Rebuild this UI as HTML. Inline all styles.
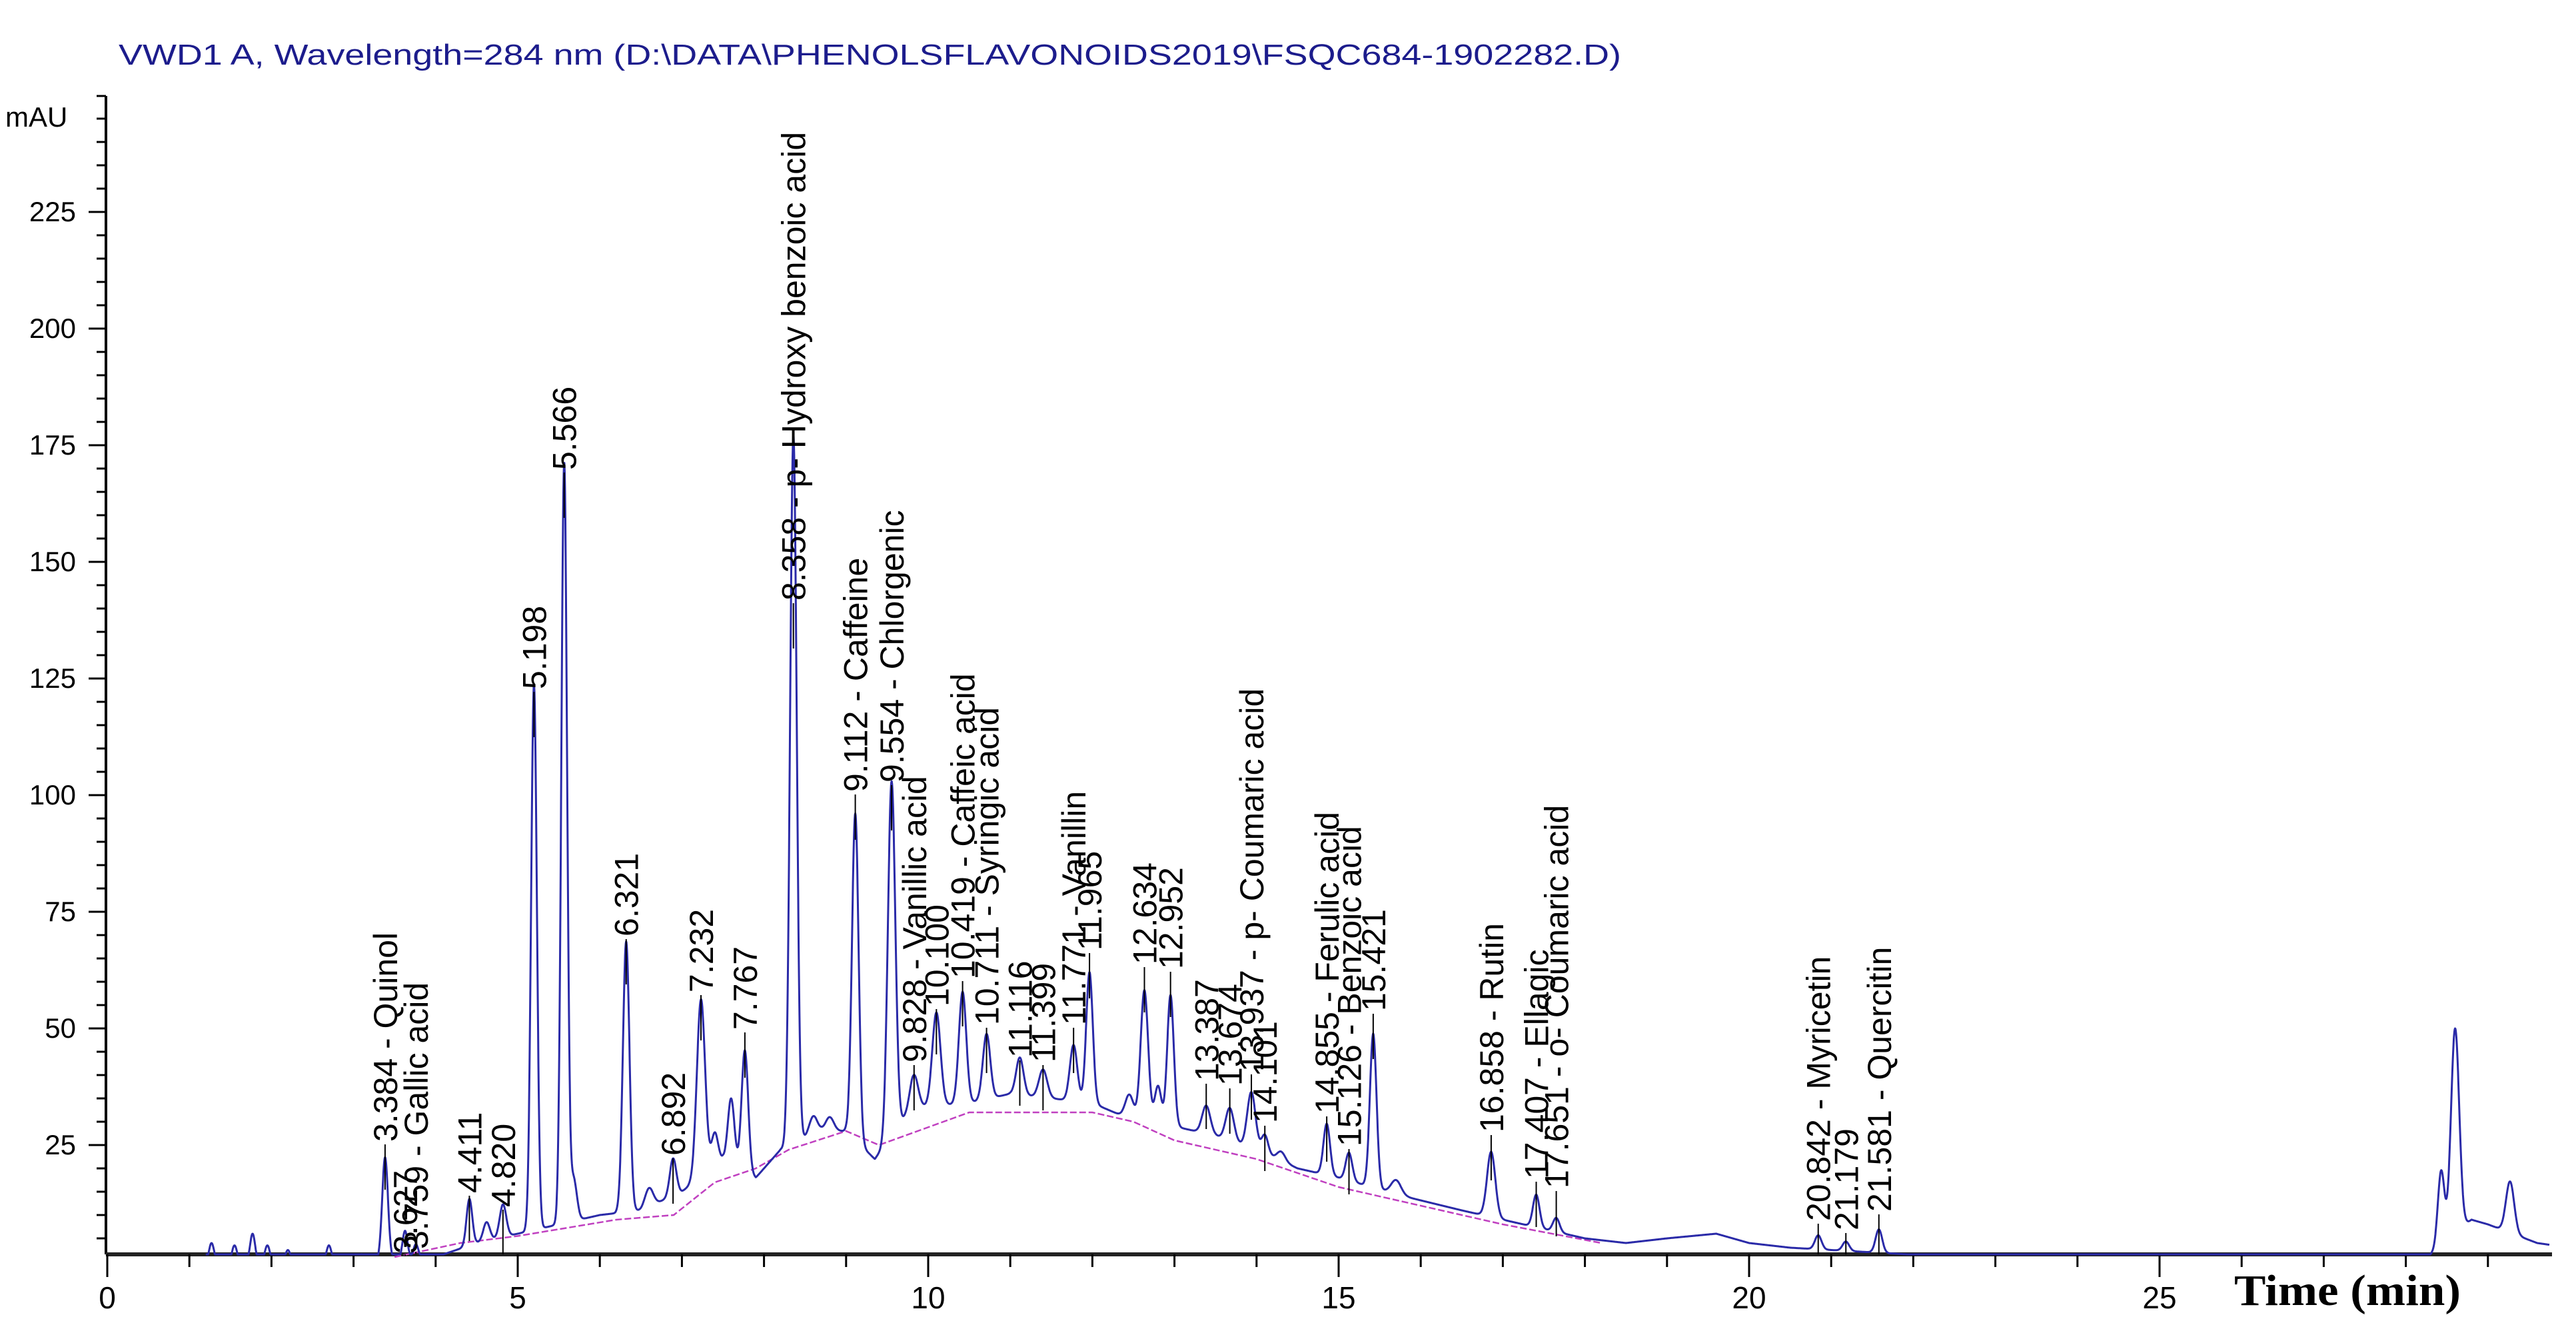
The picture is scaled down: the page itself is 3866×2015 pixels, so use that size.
<!DOCTYPE html>
<html><head><meta charset="utf-8"><style>
html,body{margin:0;padding:0;background:#fff;}
svg{display:block;}
</style></head><body>
<svg id="chart" width="3866" height="2015" viewBox="0 0 3866 2015" xmlns="http://www.w3.org/2000/svg">
<rect x="0" y="0" width="3866" height="2015" fill="#fff"/>
<text x="178" y="97" font-family="Liberation Sans, sans-serif" font-size="44" fill="#1c1c8c" textLength="2255" lengthAdjust="spacingAndGlyphs">VWD1 A, Wavelength=284 nm (D:\DATA\PHENOLSFLAVONOIDS2019\FSQC684-1902282.D)</text>
<text x="8" y="190" font-family="Liberation Sans, sans-serif" font-size="42" fill="#000">mAU</text>
<text x="3353" y="1958" font-family="Liberation Serif, serif" font-weight="bold" font-size="66" fill="#000" textLength="340" lengthAdjust="spacingAndGlyphs">Time (min)</text>
<g id="axes"></g>
<g id="plot"></g>
<g id="labels"></g>
</svg>
<script>
const peakTimes=[1.27,1.55,1.77,1.95,2.2,2.7,3.1,3.384,3.627,3.759,4.411,4.62,4.820,5.198,5.566,5.68,6.321,6.6,6.892,7.232,7.4,7.6,7.767,8.358,8.6,8.8,9.112,9.554,9.828,10.100,10.419,10.711,11.116,11.399,11.771,11.965,12.45,12.634,12.80,12.952,13.387,13.674,13.937,14.101,14.3,14.855,15.126,15.421,15.7,16.858,17.407,17.651,20.842,21.179,21.581,26.65,28.43,28.6,29.27];
const peakHeights=[4,3.5,6,3.5,2.5,3.5,1.5,22,6,3,10,4,7,117,163,9,58,4,8,38,7,14,26,152,4,3,70,76,7,20,24,14,8,6,12,28,5,28,8,28,6,7,12,4,2,11,6,33,3,14,7,3,3,2,5,1,16,44,11];
const peakWidths=[0.03,0.03,0.03,0.03,0.03,0.03,0.03,0.035,0.03,0.03,0.035,0.04,0.04,0.035,0.035,0.04,0.04,0.05,0.04,0.05,0.04,0.04,0.04,0.04,0.05,0.05,0.04,0.045,0.05,0.05,0.045,0.045,0.045,0.05,0.045,0.04,0.05,0.045,0.04,0.04,0.05,0.05,0.05,0.04,0.05,0.04,0.04,0.04,0.06,0.05,0.04,0.04,0.04,0.04,0.04,0.04,0.04,0.05,0.05];
const bgTimes=[1.2,3.0,4.0,4.5,5.0,5.5,6.0,6.5,7.0,7.5,7.9,8.2,8.7,9.0,9.35,9.8,10.5,11.0,11.5,12.0,12.4,13.0,13.5,14.0,14.5,15.0,15.8,16.5,17.0,17.5,18.0,18.5,19.0,19.6,20.0,20.5,21.0,22.0,23.0,24.0,28.2,28.8,29.0,29.6,30.0];
const bgValues=[0,0,1,4,6,8,10,11,15,22,18,24,28,28,22,33,34,36,35,34,31,29,27,24,20,18,14,11,9,7,5,4,5,6,4,3,2.5,1.5,0.5,0,0,9,8,4,3];
const baseTimes=[3.5,4.3,5.0,6.2,6.9,7.4,7.9,8.3,9.0,9.4,10.5,12.0,12.5,13.0,14.0,15.0,16.0,17.0,18.2];
const baseValues=[1,4,5.5,9,10,17,20,24,28,25,32,32,30,26,22,16,12,8,4];
const labelTimes=[3.384,3.627,3.759,4.411,4.820,5.198,5.566,6.321,6.892,7.232,7.767,8.358,9.112,9.554,9.828,10.100,10.419,10.711,11.116,11.399,11.771,11.965,12.634,12.952,13.387,13.674,13.937,14.101,14.855,15.126,15.421,16.858,17.407,17.651,20.842,21.179,21.581];
const labelTexts=["3.384 -  Quinol","3.627","3.759 -  Gallic acid","4.411","4.820","5.198","5.566","6.321","6.892","7.232","7.767","8.358 -  p- Hydroxy benzoic acid","9.112 -  Caffeine","9.554 -  Chlorgenic","9.828 -  Vanillic acid","10.100","10.419 -  Caffeic acid","10.711 -  Syringic acid","11.116","11.399","11.771 -  Vanillin","11.965","12.634","12.952","13.387","13.674","13.937 -  p- Coumaric acid","14.101","14.855 -  Ferulic acid","15.126 -  Benzoic acid","15.421","16.858 -  Rutin","17.407 -  Ellagic","17.651 -  o- Coumaric acid","20.842 -  Myricetin","21.179","21.581 -  Quercitin"];
const labelLevels=[24,0,1,13,10,121,168,68,21,56,48,140,99,101,41,53,59,49,42,41,49,65,62,61,37,36,39,28,30,23,52,26,16,14,7,5,9];
const yTickValues=[25,50,75,100,125,150,175,200,225];
const xTickValues=[0,5,10,15,20,25];

const NS="http://www.w3.org/2000/svg";
const X0=161, PXMIN=123.2, Y0=1893, PXMAU=7.0, AXISY=1882, XEND=3830;
function xs(t){return X0+t*PXMIN;}
function ys(v){return Y0-v*PXMAU;}
function interp(ts,vs,t){if(t<=ts[0])return vs[0];for(let i=1;i<ts.length;i++){if(t<=ts[i]){const f=(t-ts[i-1])/(ts[i]-ts[i-1]);return vs[i-1]+f*(vs[i]-vs[i-1]);}}return vs[vs.length-1];}
function mk(tag,attrs,parent){const e=document.createElementNS(NS,tag);for(const k in attrs)e.setAttribute(k,attrs[k]);parent.appendChild(e);return e;}
const axes=document.getElementById('axes'),plot=document.getElementById('plot'),labels=document.getElementById('labels');

let e=mk('line',{x1:159,y1:144,x2:159,y2:AXISY,stroke:'#000','stroke-width':4},axes);


for(let v=5;v<=245;v+=5){
  const major=yTickValues.indexOf(v)>=0;
  const t=mk('line',{x1:major?133:145,y1:ys(v),x2:159,y2:ys(v),stroke:'#000','stroke-width':3},axes);
  
  
}
mk('line',{x1:145,y1:144,x2:159,y2:144,stroke:'#000','stroke-width':3},axes);
yTickValues.forEach(v=>{
  const t=mk('text',{x:114,y:ys(v)+14,'text-anchor':'end','font-family':'Liberation Sans, sans-serif','font-size':42,fill:'#000'},axes);
  t.textContent=String(v);
  
  
});
e=mk('line',{x1:159,y1:AXISY,x2:XEND,y2:AXISY,stroke:'#222','stroke-width':6},axes);


for(let m=0;m<=29;m++){
  const major=xTickValues.indexOf(m)>=0;
  const t=mk('line',{x1:xs(m),y1:AXISY,x2:xs(m),y2:AXISY+(major?34:19),stroke:'#000','stroke-width':3},axes);
  
  
}
xTickValues.forEach(v=>{
  const t=mk('text',{x:xs(v),y:1963,'text-anchor':'middle','font-family':'Liberation Sans, sans-serif','font-size':46,fill:'#000'},axes);
  t.textContent=String(v);
  
  
});
let bp='';
baseTimes.forEach((t,i)=>{bp+=(i?'L':'M')+xs(t).toFixed(1)+','+ys(baseValues[i]).toFixed(1);});
e=mk('path',{d:bp,fill:'none',stroke:'#c040c0','stroke-width':2.5,'stroke-dasharray':'10,4'},plot);


let d='';
for(let t=1.2;t<=29.75;t+=0.004){
  let v=interp(bgTimes,bgValues,t);
  for(let i=0;i<peakTimes.length;i++){const z=(t-peakTimes[i])/peakWidths[i];if(Math.abs(z)<6)v+=peakHeights[i]*Math.exp(-0.5*z*z);}
  let y=Math.min(ys(v),AXISY);
  d+=(d?'L':'M')+xs(t).toFixed(1)+','+y.toFixed(1);
}
e=mk('path',{d:d,fill:'none',stroke:'#2a2aa8','stroke-width':3,'stroke-linejoin':'round'},plot);


labelTimes.forEach((t,i)=>{
  const x=xs(t)+18, y=ys(labelLevels[i])-12;
  const g=mk('text',{x:0,y:0,transform:'translate('+x.toFixed(1)+','+y.toFixed(1)+') rotate(-90)','font-family':'Liberation Sans, sans-serif','font-size':50,fill:'#000','xml:space':'preserve'},labels);
  g.textContent=labelTexts[i];
  
  
  const tk=mk('line',{x1:xs(t),y1:ys(labelLevels[i])-8,x2:xs(t),y2:Math.min(ys(labelLevels[i])+60,AXISY),stroke:'#000','stroke-width':2},labels);
  
  
});
</script>
</body></html>
